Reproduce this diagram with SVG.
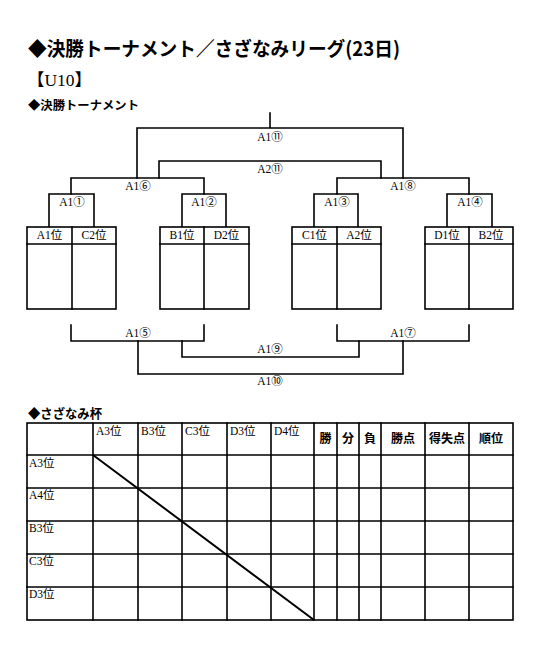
<svg xmlns="http://www.w3.org/2000/svg" width="542" height="661" viewBox="0 0 542 661">
<style>
.ln{stroke:#000;stroke-width:1.6;fill:none;stroke-linecap:square}
.bx{stroke:#000;stroke-width:1.6;fill:#fff}
.lb{font-family:"Liberation Serif","Noto Sans CJK JP",serif;font-size:11.5px;fill:#000;text-anchor:middle}
.cl{font-family:"Liberation Serif","Noto Sans CJK JP",serif;font-size:11.5px;fill:#000}
.hd{font-family:"Noto Sans CJK JP",sans-serif;font-size:12px;font-weight:bold;fill:#000;text-anchor:middle}
.ti{font-family:"Noto Sans CJK JP",sans-serif;font-weight:bold;fill:#000}
</style>
<rect width="542" height="661" fill="#fff"/>
<g id="titles">
<text class="ti" x="28" y="56" font-size="19.5" textLength="372" lengthAdjust="spacingAndGlyphs">◆決勝トーナメント／さざなみリーグ(23日)</text>
<text x="27" y="86" font-size="17" font-family="Liberation Serif,Noto Sans CJK JP,serif" textLength="65" lengthAdjust="spacingAndGlyphs">【U10】</text>
<text class="ti" x="28" y="110" font-size="12" textLength="111" lengthAdjust="spacingAndGlyphs">◆決勝トーナメント</text>
<text class="ti" x="28" y="418" font-size="13" textLength="74" lengthAdjust="spacingAndGlyphs">◆さざなみ杯</text>
</g>
<g id="connectors">
<path class="ln" d="M270 113V128M137 128H403M137 128V178M403 128V178"/>
<path class="ln" d="M159 178V161H381V178"/>
<path class="ln" d="M71 194V178H204V194M337 194V178H469V194"/>
<path class="ln" d="M49 227V194H94V227M182 227V194H226V227"/>
<path class="ln" d="M314 227V194H358V227M447 227V194H492V227"/>
<path class="ln" d="M71 325V341H204V325M337 325V341H469V325"/>
<path class="ln" d="M182 341V357H359V341"/>
<path class="ln" d="M138 341V374H403V341"/>
</g>
<g id="labels">
<text class="lb" x="270" y="141">A1⑪</text>
<text class="lb" x="270" y="173">A2⑪</text>
<text class="lb" x="138" y="190">A1⑥</text>
<text class="lb" x="403" y="190">A1⑧</text>
<text class="lb" x="72" y="206">A1①</text>
<text class="lb" x="204" y="206">A1②</text>
<text class="lb" x="337" y="206">A1③</text>
<text class="lb" x="470" y="206">A1④</text>
<text class="lb" x="138" y="337">A1⑤</text>
<text class="lb" x="403" y="337">A1⑦</text>
<text class="lb" x="270" y="353">A1⑨</text>
<text class="lb" x="270" y="385">A1⑩</text>
</g>
<g id="t1">
<rect class="bx" x="27" y="227" width="89" height="82"/>
<path class="ln" d="M27 244H116M72 227V309"/>
<text class="lb" x="49.5" y="239">A1位</text><text class="lb" x="94" y="239">C2位</text>
</g>
<g id="t2">
<rect class="bx" x="160" y="227" width="89" height="82"/>
<path class="ln" d="M160 244H249M204 227V309"/>
<text class="lb" x="182" y="239">B1位</text><text class="lb" x="226.5" y="239">D2位</text>
</g>
<g id="t3">
<rect class="bx" x="292" y="227" width="89" height="82"/>
<path class="ln" d="M292 244H381M337 227V309"/>
<text class="lb" x="314.5" y="239">C1位</text><text class="lb" x="359" y="239">A2位</text>
</g>
<g id="t4">
<rect class="bx" x="425" y="227" width="88" height="82"/>
<path class="ln" d="M425 244H513M469 227V309"/>
<text class="lb" x="447" y="239">D1位</text><text class="lb" x="491" y="239">B2位</text>
</g>
<g id="league">
<rect class="bx" x="27" y="423" width="486" height="197"/>
<path class="ln" d="M27 455H513M27 488H513M27 521H513M27 554H513M27 587H513"/>
<path class="ln" d="M93 423V620M138 423V620M182 423V620M227 423V620M271 423V620M314 423V620M337 423V620M359 423V620M381 423V620M425 423V620M469 423V620"/>
<path d="M93 455L314 620" stroke="#000" stroke-width="2" fill="none"/>
<text class="cl" x="96" y="435">A3位</text>
<text class="cl" x="141" y="435">B3位</text>
<text class="cl" x="185" y="435">C3位</text>
<text class="cl" x="230" y="435">D3位</text>
<text class="cl" x="274" y="435">D4位</text>
<text class="hd" x="325.5" y="443">勝</text>
<text class="hd" x="348" y="443">分</text>
<text class="hd" x="370" y="443">負</text>
<text class="hd" x="403" y="443">勝点</text>
<text class="hd" x="447" y="443">得失点</text>
<text class="hd" x="491" y="443">順位</text>
<text class="cl" x="29" y="467">A3位</text>
<text class="cl" x="29" y="499">A4位</text>
<text class="cl" x="29" y="532">B3位</text>
<text class="cl" x="29" y="565">C3位</text>
<text class="cl" x="29" y="598">D3位</text>
</g>
</svg>
